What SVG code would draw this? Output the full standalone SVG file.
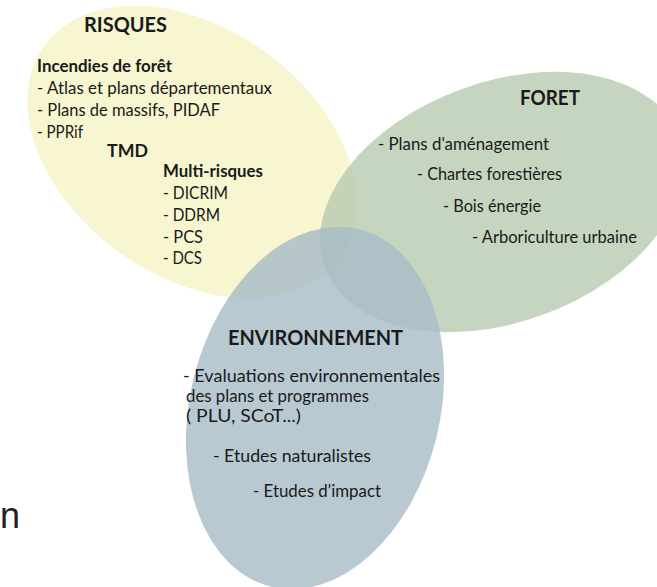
<svg xmlns="http://www.w3.org/2000/svg" width="657" height="587" viewBox="0 0 657 587">
<style>
text{font-family:Lato,"Open Sans","Liberation Sans",sans-serif;fill:#1a1a1a;font-size:16.5px}
.t{font-weight:bold;font-size:20px}
.b{font-weight:bold}
</style>
<rect width="657" height="587" fill="#ffffff"/>
<g id="risques">
<ellipse cx="192" cy="152" rx="182" ry="124" transform="rotate(35.6 192 152)" fill="#f7f6d0"/>
</g>
<g id="foret">
<ellipse cx="502" cy="202" rx="189" ry="120" transform="rotate(-20.2 502 202)" fill="#b7cbb0" fill-opacity="0.8"/>
</g>
<g id="environnement">
<ellipse cx="315" cy="408" rx="125" ry="184" transform="rotate(13.8 315 408)" fill="#a6bcc7" fill-opacity="0.8"/>
</g>
<g id="connectors"></g>
<g id="risques-text">
<text class="t" x="84" y="32" textLength="83" lengthAdjust="spacingAndGlyphs">RISQUES</text>
<text class="b" x="37" y="72" textLength="135" lengthAdjust="spacingAndGlyphs">Incendies de forêt</text>
<text x="37" y="94" textLength="235" lengthAdjust="spacingAndGlyphs">- Atlas et plans départementaux</text>
<text x="37" y="116" textLength="183" lengthAdjust="spacingAndGlyphs">- Plans de massifs, PIDAF</text>
<text x="37" y="138" textLength="46" lengthAdjust="spacingAndGlyphs">- PPRif</text>
<text class="b" x="107" y="157" textLength="41" lengthAdjust="spacingAndGlyphs">TMD</text>
<text class="b" x="163" y="177" textLength="100" lengthAdjust="spacingAndGlyphs">Multi-risques</text>
<text x="163" y="199" textLength="65" lengthAdjust="spacingAndGlyphs">- DICRIM</text>
<text x="163" y="221" textLength="57" lengthAdjust="spacingAndGlyphs">- DDRM</text>
<text x="163" y="243" textLength="40" lengthAdjust="spacingAndGlyphs">- PCS</text>
<text x="163" y="264" textLength="39" lengthAdjust="spacingAndGlyphs">- DCS</text>
</g>
<g id="foret-text">
<text class="t" x="520" y="105" textLength="60" lengthAdjust="spacingAndGlyphs">FORET</text>
<text x="378" y="150" textLength="171" lengthAdjust="spacingAndGlyphs">- Plans d'aménagement</text>
<text x="417" y="180" textLength="145" lengthAdjust="spacingAndGlyphs">- Chartes forestières</text>
<text x="443" y="212" textLength="98" lengthAdjust="spacingAndGlyphs">- Bois énergie</text>
<text x="472" y="243" textLength="165" lengthAdjust="spacingAndGlyphs">- Arboriculture urbaine</text>
</g>
<g id="environnement-text">
<text class="t" x="228" y="345" textLength="175" lengthAdjust="spacingAndGlyphs">ENVIRONNEMENT</text>
<text x="183" y="382" textLength="257" lengthAdjust="spacingAndGlyphs">- Evaluations environnementales</text>
<text x="186" y="402" textLength="183" lengthAdjust="spacingAndGlyphs">des plans et programmes</text>
<text x="186" y="422" textLength="115" lengthAdjust="spacingAndGlyphs">( PLU, SCoT...)</text>
<text x="213" y="462" textLength="158" lengthAdjust="spacingAndGlyphs">- Etudes naturalistes</text>
<text x="253" y="497" textLength="128" lengthAdjust="spacingAndGlyphs">- Etudes d'impact</text>
</g>
<text x="0" y="528" style="font-family:'Liberation Sans',Arial,sans-serif;font-size:36px;fill:#222">n</text>
</svg>
